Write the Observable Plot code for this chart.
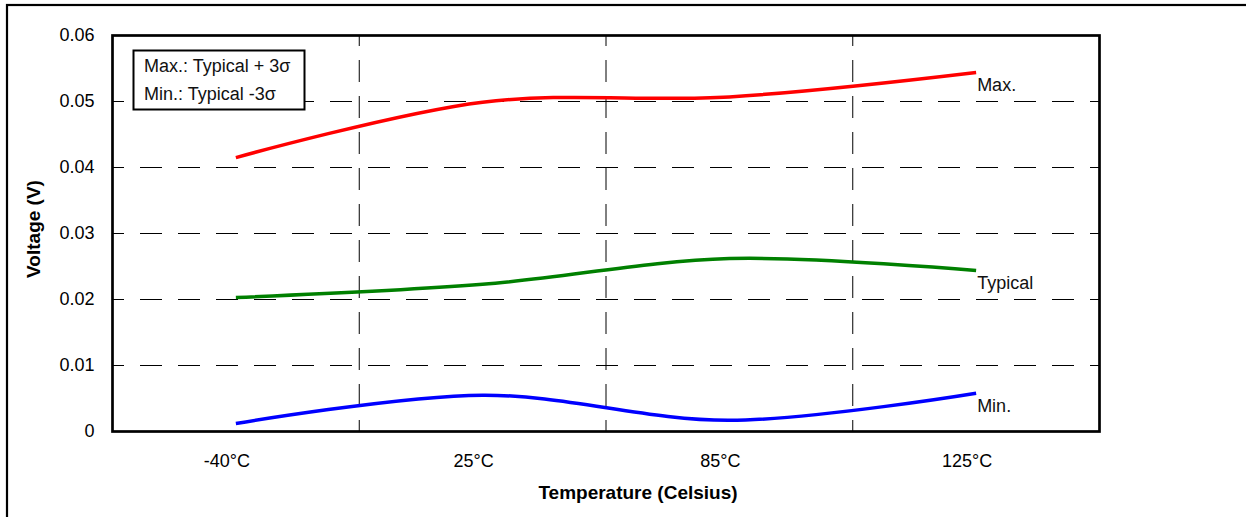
<!DOCTYPE html>
<html>
<head>
<meta charset="utf-8">
<script src="https://cdn.jsdelivr.net/npm/d3@7"></script>
<script src="https://cdn.jsdelivr.net/npm/@observablehq/plot@0.6"></script>
<style>
  html, body { margin: 0; padding: 0; background: #fff; }
  svg { display: block; }
</style>
</head>
<body>
<script>
const categories = ["-40°C", "25°C", "85°C", "125°C"];
const maxValues = [0.0415, 0.0499, 0.0507, 0.0544];
const typicalValues = [0.0203, 0.0223, 0.0262, 0.0244];
const minValues = [0.0012, 0.0055, 0.0017, 0.0058];
const yTicks = [0, 0.01, 0.02, 0.03, 0.04, 0.05, 0.06];
const yTickLabels = ["0", "0.01", "0.02", "0.03", "0.04", "0.05", "0.06"];
const seriesNames = ["Max.", "Typical", "Min."];
const seriesColors = ["#ff0000", "#008000", "#0000ff"];
const legendLines = ["Max.: Typical + 3σ", "Min.: Typical -3σ"];

const seriesValues = [maxValues, typicalValues, minValues];
const rows = [];
seriesNames.forEach((s, k) => seriesValues[k].forEach((v, i) => rows.push({series: s, i, v})));
const ends = seriesNames.map((s, k) => ({series: s, i: categories.length - 1, v: seriesValues[k][categories.length - 1]}));
const gridX = categories.slice(1).map((_, i) => i + 0.5);
const gridY = yTicks.slice(1, -1);

const font = "Arial, 'Liberation Sans', sans-serif";

const svg = Plot.plot({
  width: 1246,
  height: 517,
  marginLeft: 112,
  marginRight: 147,
  marginTop: 35,
  marginBottom: 86,
  style: {fontFamily: font, fontSize: "18px", color: "#000", background: "#fff"},
  x: {type: "linear", domain: [-0.5, categories.length - 0.5]},
  y: {domain: [0, 0.06]},
  color: {domain: seriesNames, range: seriesColors},
  marks: [
    Plot.ruleY(gridY, {stroke: "#000", strokeWidth: 1, strokeDasharray: "22,16", strokeDashoffset: 10}),
    Plot.ruleX(gridX, {stroke: "#000", strokeWidth: 1, strokeDasharray: "22,14", strokeDashoffset: 11}),
    Plot.line(rows, {x: "i", y: "v", z: "series", stroke: "series", strokeWidth: 3.5, curve: "catmull-rom", strokeLinecap: "butt"}),
    Plot.text(ends, {x: "i", y: "v", text: "series", textAnchor: "start", dx: 1, dy: 13, fontSize: 18, fill: "#111"}),
    Plot.frame({stroke: "#000", strokeWidth: 2.7}),
    Plot.axisX({ticks: categories.map((_, i) => i), tickFormat: i => categories[i], tickSize: 0, tickPadding: 23, dx: -9, fontSize: 18, label: null}),
    Plot.axisY({ticks: yTicks, tickFormat: d => yTickLabels[yTicks.indexOf(d)], tickSize: 0, tickPadding: 18, fontSize: 18, label: null})
  ]
});

document.body.appendChild(svg);
const s = d3.select(svg);

// outer border
s.append("rect").attr("x", 7).attr("y", 5).attr("width", 1260).attr("height", 530)
  .attr("fill", "none").attr("stroke", "#000").attr("stroke-width", 2.2);

// legend box
const lg = s.append("g").attr("text-anchor", "start");
lg.append("rect").attr("x", 133.5).attr("y", 50.5).attr("width", 171).attr("height", 59)
  .attr("fill", "#fff").attr("stroke", "#000").attr("stroke-width", 2);
legendLines.forEach((t, k) => {
  lg.append("text").attr("x", 144).attr("y", 72 + k * 28).attr("text-anchor", "start")
    .attr("font-family", font).attr("font-size", 18).attr("fill", "#111").text(t);
});

// axis titles
s.append("text").attr("transform", "translate(40,229) rotate(-90)")
  .attr("text-anchor", "middle").attr("font-family", font).attr("font-size", 19)
  .attr("font-weight", "bold").attr("fill", "#000").text("Voltage (V)");
s.append("text").attr("x", 638).attr("y", 499)
  .attr("text-anchor", "middle").attr("font-family", font).attr("font-size", 19)
  .attr("font-weight", "bold").attr("fill", "#000").text("Temperature (Celsius)");
</script>
</body>
</html>
